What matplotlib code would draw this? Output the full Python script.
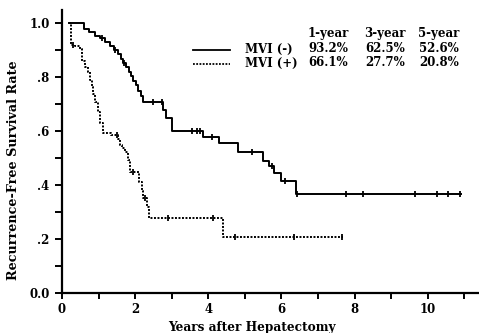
import numpy as np
import matplotlib
matplotlib.use("Agg")
import matplotlib.pyplot as plt

# MVI(-) step curve: time (years) of each step and survival after it
neg_t = [0.2, 0.6, 0.75, 0.9, 1.05, 1.18, 1.31, 1.42, 1.52, 1.6, 1.68, 1.75, 1.82,
         1.88, 1.95, 2.02, 2.09, 2.15, 2.22, 2.75, 2.85, 3.0, 3.85, 4.3, 4.8, 5.5,
         5.65, 5.8, 6.0, 6.4]
neg_s = [1.0, 0.98, 0.967, 0.955, 0.945, 0.93, 0.915, 0.9, 0.885, 0.87, 0.855, 0.84,
         0.82, 0.805, 0.785, 0.77, 0.75, 0.73, 0.71, 0.68, 0.65, 0.60, 0.58, 0.555,
         0.525, 0.49, 0.47, 0.445, 0.415, 0.368]
neg_end = 10.9
neg_cens = [1.1, 1.45, 1.7, 2.5, 2.73, 3.55, 3.68, 3.78, 4.1, 5.2, 5.75, 6.1,
            6.42, 7.76, 8.23, 9.64, 10.24, 10.55, 10.87]

# MVI(+) step curve
pos_t = [0.2, 0.25, 0.36, 0.49, 0.55, 0.63, 0.71, 0.77, 0.82, 0.86, 0.9, 0.98, 1.05,
         1.12, 1.33, 1.53, 1.58, 1.65, 1.72, 1.8, 1.86, 2.1, 2.19, 2.21, 2.32, 2.38,
         4.4]
pos_s = [1.0, 0.92, 0.915, 0.905, 0.86, 0.84, 0.82, 0.79, 0.765, 0.74, 0.71, 0.67,
         0.63, 0.595, 0.585, 0.572, 0.55, 0.537, 0.524, 0.494, 0.45, 0.413, 0.38,
         0.353, 0.32, 0.279, 0.208]
pos_end = 7.68
pos_cens = [0.3, 1.5, 1.95, 2.27, 2.9, 4.13, 4.73, 6.34, 7.65]

years = ["1-year", "3-year", "5-year"]
groups = ["MVI (-)", "MVI (+)"]
rates = [["93.2%", "62.5%", "52.6%"], ["66.1%", "27.7%", "20.8%"]]

serif = "DejaVu Serif"

fig = plt.figure(figsize=(4.79, 3.33), dpi=100)
ax = fig.add_axes([62 / 479, 40 / 333, 417 / 479, 283 / 333])


def level(ts, ss, x):
    i = np.searchsorted(ts, x, side="right") - 1
    return np.array(ss)[i]


ax.step(neg_t + [neg_end], neg_s + [neg_s[-1]], where="post", color="black", lw=1.4)
ax.step(pos_t + [pos_end], pos_s + [pos_s[-1]], where="post", color="black", lw=1.4,
        linestyle=(0, (1, 0.8)))
ax.plot(neg_cens, level(neg_t, neg_s, neg_cens), "|", color="black", ms=5, mew=1.3)
ax.plot(pos_cens, level(pos_t, pos_s, pos_cens), "|", color="black", ms=5, mew=1.3)

ax.set_xlim(0, 11.4)
ax.set_ylim(0, 1.05)
ax.spines["top"].set_visible(False)
ax.spines["right"].set_visible(False)
ax.spines["left"].set_linewidth(1.6)
ax.spines["bottom"].set_linewidth(1.6)

ax.set_xticks(range(0, 12))
ax.set_xticklabels([str(i) if i % 2 == 0 and i <= 10 else "" for i in range(0, 12)])
ax.set_yticks(np.arange(0, 1.01, 0.1))
ax.set_yticklabels(["0.0", "", ".2", "", ".4", "", ".6", "", ".8", "", "1.0"])
ax.tick_params(axis="both", direction="out", length=5, width=1.4)
ax.tick_params(axis="x", length=4, pad=3)
ax.tick_params(axis="y", pad=4)
for lab in ax.get_xticklabels() + ax.get_yticklabels():
    lab.set_fontfamily(serif)
    lab.set_fontweight("bold")
    lab.set_fontsize(8.5)

ax.set_ylabel("Recurrence-Free Survival Rate", fontfamily=serif, fontweight="bold",
              fontsize=9.2)
ax.yaxis.set_label_coords(-0.1, 0.435)
ax.set_xlabel("Years after Hepatectomy", fontfamily=serif, fontweight="bold",
              fontsize=8.7)
ax.xaxis.set_label_coords(0.456, -0.098)

# table-style legend in the upper right
def fx(px):
    return px / 479


def fy(py):
    return 1 - py / 333


col_x = [328, 385, 439]
for x, yr in zip(col_x, years):
    fig.text(fx(x), fy(34), yr, ha="center", va="center", fontfamily=serif,
             fontweight="bold", fontsize=8.5)
row_y = [49, 63]
styles = ["-", (0, (1, 0.8))]
for y, g, r, st in zip(row_y, groups, rates, styles):
    fig.add_artist(plt.Line2D([fx(193), fx(230)], [fy(y + 1), fy(y + 1)],
                              color="black", lw=1.3, linestyle=st))
    fig.text(fx(245), fy(y), g, ha="left", va="center", fontfamily=serif,
             fontweight="bold", fontsize=8.5)
    for x, v in zip(col_x, r):
        fig.text(fx(x), fy(y), v, ha="center", va="center", fontfamily=serif,
                 fontweight="bold", fontsize=8.5)

fig.savefig("out.png", dpi=100)
